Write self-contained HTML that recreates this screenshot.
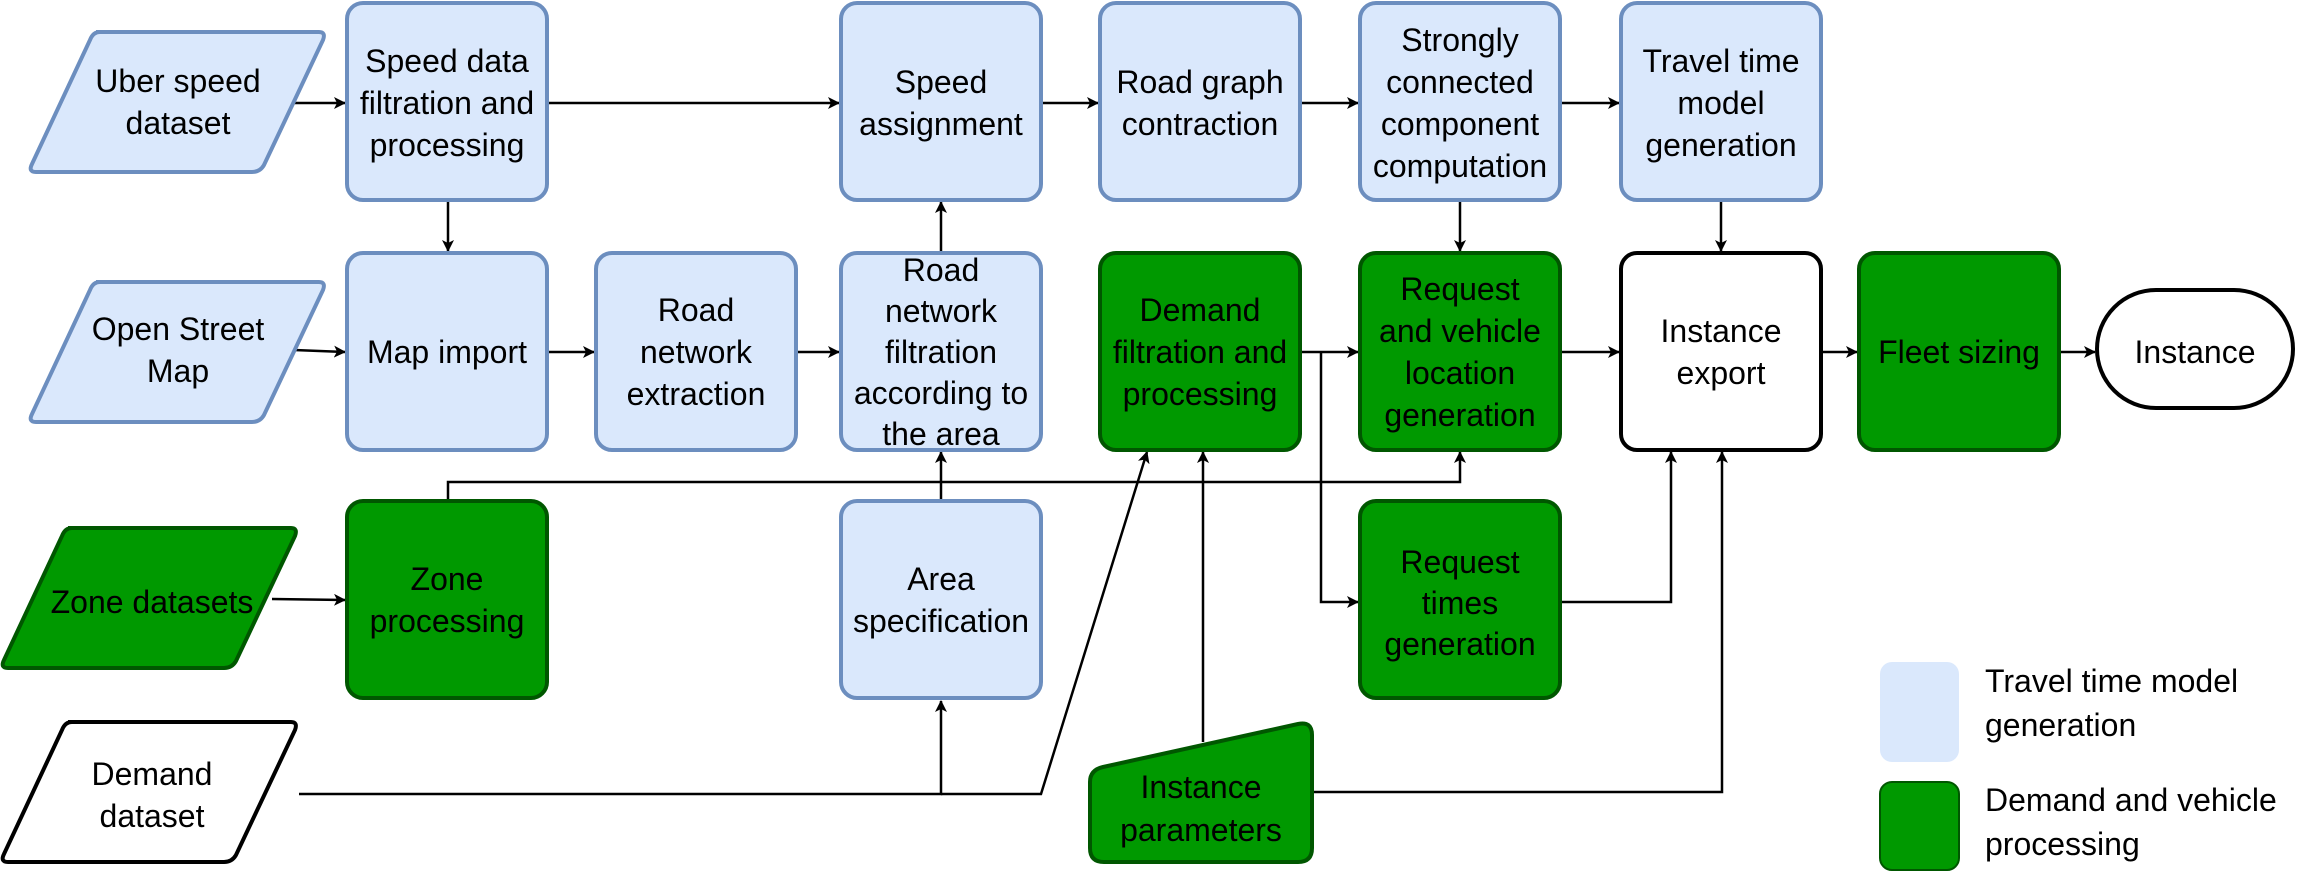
<!DOCTYPE html>
<html><head><meta charset="utf-8"><style>
html,body{margin:0;padding:0;background:#fff;}
svg{display:block;}
text{font-family:"Liberation Sans",Arial,sans-serif;font-size:32px;fill:#000;text-anchor:middle;}
.b{fill:#dae8fc;stroke:#6c8ebf;stroke-width:4;}
.g{fill:#009900;stroke:#005700;stroke-width:4;}
.w{fill:#fff;stroke:#000;stroke-width:4;}
.l{fill:none;stroke:#000;stroke-width:2.5;}
</style></head><body>
<svg width="2306" height="872" viewBox="0 0 2306 872" xmlns="http://www.w3.org/2000/svg">
<defs><marker id="a" markerWidth="12" markerHeight="12" refX="11" refY="6" orient="auto" markerUnits="userSpaceOnUse"><path d="M0,0 L12,6 L0,12 L3,6 Z" fill="#000"/></marker></defs>

<!-- connectors -->
<g class="l" marker-end="url(#a)">
<path d="M294,103 L345,103"/>
<path d="M548,103 L839,103"/>
<path d="M1042,103 L1098,103"/>
<path d="M1302,103 L1358,103"/>
<path d="M1562,103 L1619,103"/>
<path d="M448,202 L448,251"/>
<path d="M294,350 L345,352"/>
<path d="M548,352 L594,352"/>
<path d="M798,352 L839,352"/>
<path d="M941,251 L941,202"/>
<path d="M941,501 L941,452"/>
<path d="M299,794 L941,794 L941,701"/>
<path d="M941,794 L1041,794 L1147,452"/>
<path d="M448,501 L448,482 L1460,482 L1460,452"/>
<path d="M272,599 L345,600"/>
<path d="M1203,742 L1203,452"/>
<path d="M1312,792 L1722,792 L1722,452"/>
<path d="M1460,202 L1460,251"/>
<path d="M1721,202 L1721,251"/>
<path d="M1302,352 L1358,352"/>
<path d="M1321,352 L1321,602 L1358,602"/>
<path d="M1562,352 L1619,352"/>
<path d="M1562,602 L1671,602 L1671,452"/>
<path d="M1823,352 L1857,352"/>
<path d="M2061,352 L2095,352"/>
</g>

<!-- parallelograms -->
<path class="b" d="M96,32 L319,32 Q326,32 323,40 L264,165 Q260,172 252,172 L36,172 Q28,172 32,164 L90,40 Q93,32 100,32 Z"/>
<text x="178" y="92">Uber speed</text><text x="178" y="134">dataset</text>
<path class="b" d="M96,282 L319,282 Q326,282 323,290 L264,415 Q260,422 252,422 L36,422 Q28,422 32,414 L90,290 Q93,282 100,282 Z"/>
<text x="178" y="340">Open Street</text><text x="178" y="382">Map</text>
<path class="g" d="M68,528 L291,528 Q298,528 295,536 L236,661 Q232,668 224,668 L8,668 Q0,668 4,660 L62,536 Q65,528 72,528 Z"/>
<text x="152" y="613">Zone datasets</text>
<path class="w" d="M68,722 L291,722 Q298,722 295,730 L236,855 Q232,862 224,862 L8,862 Q0,862 4,854 L62,730 Q65,722 72,722 Z"/>
<text x="152" y="785">Demand</text><text x="152" y="827">dataset</text>

<!-- row 1 -->
<rect class="b" x="347" y="3" width="200" height="197" rx="16"/>
<text x="447" y="72">Speed data</text><text x="447" y="114">filtration and</text><text x="447" y="156">processing</text>
<rect class="b" x="841" y="3" width="200" height="197" rx="16"/>
<text x="941" y="93">Speed</text><text x="941" y="135">assignment</text>
<rect class="b" x="1100" y="3" width="200" height="197" rx="16"/>
<text x="1200" y="93">Road graph</text><text x="1200" y="135">contraction</text>
<rect class="b" x="1360" y="3" width="200" height="197" rx="16"/>
<text x="1460" y="51">Strongly</text><text x="1460" y="93">connected</text><text x="1460" y="135">component</text><text x="1460" y="177">computation</text>
<rect class="b" x="1621" y="3" width="200" height="197" rx="16"/>
<text x="1721" y="72">Travel time</text><text x="1721" y="114">model</text><text x="1721" y="156">generation</text>

<!-- row 2 -->
<rect class="b" x="347" y="253" width="200" height="197" rx="16"/>
<text x="447" y="363">Map import</text>
<rect class="b" x="596" y="253" width="200" height="197" rx="16"/>
<text x="696" y="321">Road</text><text x="696" y="363">network</text><text x="696" y="405">extraction</text>
<rect class="b" x="841" y="253" width="200" height="197" rx="16"/>
<text x="941" y="281">Road</text><text x="941" y="322">network</text><text x="941" y="363">filtration</text><text x="941" y="404">according to</text><text x="941" y="445">the area</text>
<rect class="g" x="1100" y="253" width="200" height="197" rx="16"/>
<text x="1200" y="321">Demand</text><text x="1200" y="363">filtration and</text><text x="1200" y="405">processing</text>
<rect class="g" x="1360" y="253" width="200" height="197" rx="16"/>
<text x="1460" y="300">Request</text><text x="1460" y="342">and vehicle</text><text x="1460" y="384">location</text><text x="1460" y="426">generation</text>
<rect class="w" x="1621" y="253" width="200" height="197" rx="16"/>
<text x="1721" y="342">Instance</text><text x="1721" y="384">export</text>
<rect class="g" x="1859" y="253" width="200" height="197" rx="16"/>
<text x="1959" y="363">Fleet sizing</text>
<rect class="w" x="2097" y="290" width="196" height="118" rx="59"/>
<text x="2195" y="363">Instance</text>

<!-- row 3 -->
<rect class="g" x="347" y="501" width="200" height="197" rx="16"/>
<text x="447" y="590">Zone</text><text x="447" y="632">processing</text>
<rect class="b" x="841" y="501" width="200" height="197" rx="16"/>
<text x="941" y="590">Area</text><text x="941" y="632">specification</text>
<rect class="g" x="1360" y="501" width="200" height="197" rx="16"/>
<text x="1460" y="573">Request</text><text x="1460" y="614">times</text><text x="1460" y="655">generation</text>

<!-- instance parameters -->
<path class="g" d="M1103,767 L1298,724 Q1312,721 1312,735 L1312,848 Q1312,862 1298,862 L1104,862 Q1090,862 1090,848 L1090,782 Q1090,770 1103,767 Z"/>
<text x="1201" y="798">Instance</text><text x="1201" y="841">parameters</text>

<!-- legend -->
<rect x="1880" y="662" width="79" height="100" rx="12" fill="#dae8fc"/>
<rect x="1880" y="782" width="79" height="88" rx="12" fill="#009900" stroke="#005700" stroke-width="2"/>
<text x="1985" y="692" style="text-anchor:start">Travel time model</text>
<text x="1985" y="736" style="text-anchor:start">generation</text>
<text x="1985" y="811" style="text-anchor:start">Demand and vehicle</text>
<text x="1985" y="855" style="text-anchor:start">processing</text>
</svg>
</body></html>
